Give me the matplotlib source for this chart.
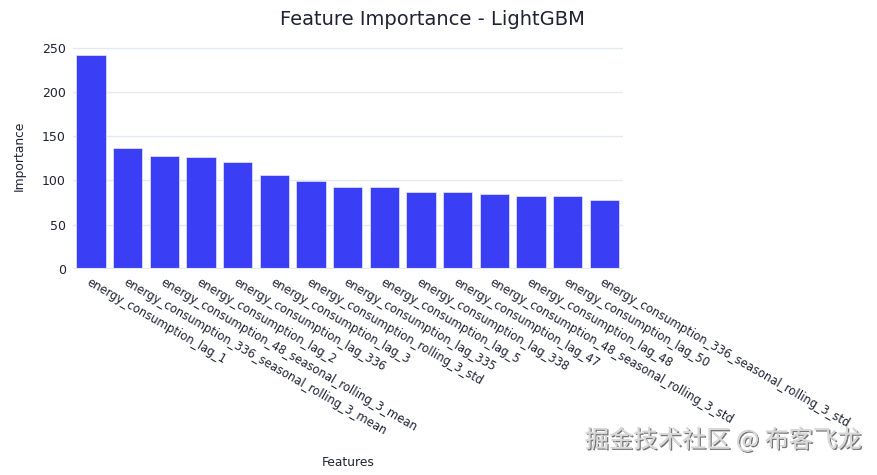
import matplotlib.pyplot as plt
import matplotlib.patheffects as pe

features = [
    "energy_consumption_lag_1",
    "energy_consumption_336_seasonal_rolling_3_mean",
    "energy_consumption_48_seasonal_rolling_3_mean",
    "energy_consumption_lag_2",
    "energy_consumption_lag_336",
    "energy_consumption_lag_3",
    "energy_consumption_rolling_3_std",
    "energy_consumption_lag_335",
    "energy_consumption_lag_5",
    "energy_consumption_lag_338",
    "energy_consumption_lag_47",
    "energy_consumption_48_seasonal_rolling_3_std",
    "energy_consumption_lag_48",
    "energy_consumption_lag_50",
    "energy_consumption_336_seasonal_rolling_3_std",
]
importance = [242, 137, 128, 126, 121, 106, 99, 93, 93, 87, 87, 85, 82, 82, 78]
yticks = [0, 50, 100, 150, 200, 250]

plt.rcParams["font.family"] = ["DejaVu Sans"]
text_color = "#1e2233"
grid_color = "#e3e8f2"

fig = plt.figure(figsize=(8.77, 4.75), dpi=100)
ax = fig.add_axes([0.083, 0.434, 0.627, 0.475])

x = list(range(len(features)))
ax.bar(x, importance, width=0.8, color="#3a3ff5", edgecolor="#e6e8ff", linewidth=0.5, zorder=3)

ax.set_xlim(-0.5, len(features) - 0.5)
ax.set_ylim(0, 255)
ax.set_yticks(yticks)
ax.set_yticklabels([str(v) for v in yticks], fontsize=9, color=text_color)
ax.grid(axis="y", color=grid_color, linewidth=1, zorder=0)
ax.axhline(0, color=grid_color, linewidth=1.5, zorder=4)

ax.set_xticks(x)
ax.set_xticklabels(features, rotation=-30, ha="left", va="top",
                   rotation_mode="anchor", fontsize=8.4, color=text_color)
ax.tick_params(axis="both", length=0, pad=5)
ax.tick_params(axis="x", pad=5)

for s in ax.spines.values():
    s.set_visible(False)

ax.set_ylabel("Importance", fontsize=8.8, color=text_color, labelpad=12)
fig.text(0.397, 0.02, "Features", fontsize=8.8, color=text_color, ha="center")
fig.text(0.493, 0.958, "Feature Importance - LightGBM", fontsize=14,
         color=text_color, ha="center", va="center")

wm = fig.text(0.982, 0.073, "掘金技术社区 @ 布客飞龙", fontsize=17.5, color="#d8d8d8",
              ha="right", va="center", family=["Noto Sans CJK SC", "DejaVu Sans"])
wm.set_path_effects([pe.withSimplePatchShadow(offset=(1, -1), shadow_rgbFace="#555555", alpha=0.8),
                     pe.Normal()])

fig.savefig("out.png", dpi=100, facecolor="white")
